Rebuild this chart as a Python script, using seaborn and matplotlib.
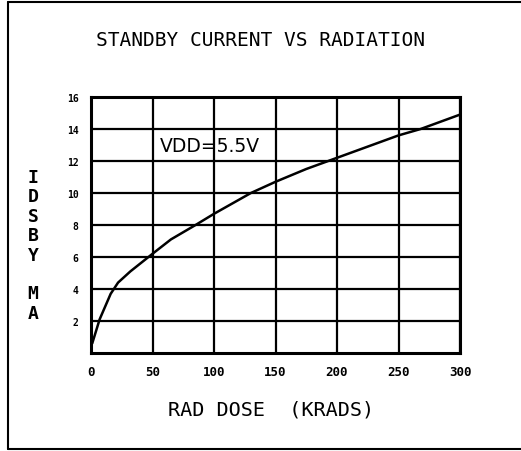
import matplotlib
matplotlib.use("Agg")
import matplotlib.pyplot as plt
import seaborn as sns
import pandas as pd
from matplotlib.lines import Line2D

# Data
dose_krads = [1, 7, 16, 22, 32, 50, 65, 85, 100, 130, 150, 175, 200, 225, 250, 268, 300]
idsby_ma = [0.6, 2.1, 3.7, 4.4, 5.1, 6.2, 7.1, 8.0, 8.7, 10.0, 10.7, 11.5, 12.2, 12.9, 13.6, 14.0, 14.9]
x_ticks = [0, 50, 100, 150, 200, 250, 300]
y_ticks = [2, 4, 6, 8, 10, 12, 14, 16]

df = pd.DataFrame({"dose": dose_krads, "idsby": idsby_ma})

sns.set_style("white")
plt.rcParams["font.family"] = ["DejaVu Sans Mono", "DejaVu Sans"]
plt.rcParams["text.color"] = "black"
plt.rcParams["xtick.color"] = "black"
plt.rcParams["ytick.color"] = "black"

fig = plt.figure(figsize=(5.21, 4.52), dpi=100)
ax = fig.add_axes([91 / 521, 1 - 354 / 452, (460 - 91) / 521, (354 - 98) / 452])

sns.lineplot(data=df, x="dose", y="idsby", ax=ax, color="black", linewidth=1.8)

ax.set_xlim(0, 300)
ax.set_ylim(0, 16)
ax.set_xticks(x_ticks)
ax.set_yticks(y_ticks)
ax.set_xticklabels([str(t) for t in x_ticks], fontsize=9, fontweight="bold")
ax.set_yticklabels([str(t) for t in y_ticks], fontsize=7, fontweight="bold")
ax.tick_params(length=0)
ax.tick_params(axis="x", pad=9)
ax.tick_params(axis="y", pad=9)
ax.grid(True, color="black", linewidth=1.6)
for s in ax.spines.values():
    s.set_color("black")
    s.set_linewidth(2.2)
ax.set_xlabel("")
ax.set_ylabel("")

ax.text(56, 13, "VDD=5.5V", fontsize=13.5, va="center", ha="left",
        family="DejaVu Sans", color="black")

fig.text(260 / 521, 1 - 40 / 452, "STANDBY CURRENT VS RADIATION",
         ha="center", va="center", fontsize=14)
fig.text(271 / 521, 1 - 410 / 452, "RAD DOSE  (KRADS)",
         ha="center", va="center", fontsize=14.5)
fig.text(33 / 521, 1 - 246 / 452, "I\nD\nS\nB\nY\n\nM\nA",
         ha="center", va="center", fontsize=13, linespacing=1.1,
         fontweight="bold")

# outer frame: left, top and bottom edges only
left, top, bottom = 8 / 521, 1 - 3 / 452, 1 - 450 / 452
for xs, ys in [([left, left], [bottom, top]),
               ([left, 1.0], [top, top]),
               ([left, 1.0], [bottom, bottom])]:
    fig.add_artist(Line2D(xs, ys, transform=fig.transFigure,
                          color="black", linewidth=1.5))

fig.savefig("out.png", dpi=100)
